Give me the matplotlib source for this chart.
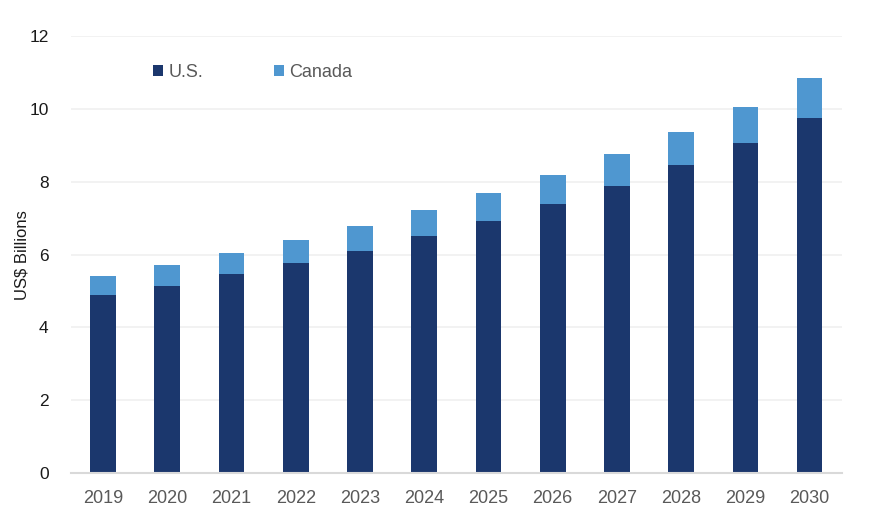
import matplotlib
matplotlib.use("Agg")
import matplotlib.pyplot as plt
import numpy as np

plt.rcParams['font.family'] = ['Liberation Sans', 'DejaVu Sans']

# data
years = ["2019", "2020", "2021", "2022", "2023", "2024",
         "2025", "2026", "2027", "2028", "2029", "2030"]
us = [4.90, 5.15, 5.47, 5.78, 6.11, 6.50, 6.93, 7.40, 7.89, 8.47, 9.08, 9.76]
total = [5.40, 5.71, 6.04, 6.40, 6.79, 7.23, 7.69, 8.20, 8.76, 9.38, 10.05, 10.84]
canada = [round(t - u, 2) for t, u in zip(total, us)]

fig = plt.figure(figsize=(8.75, 5.18), dpi=100)
ax = fig.add_axes([0.081, 0.087, 0.881, 0.843])

x = np.arange(len(years))
ax.bar(x, us, width=0.4, color="#1b376d", label="U.S.", zorder=3)
ax.bar(x, canada, width=0.4, bottom=us, color="#4f97d0", label="Canada", zorder=3)

ax.set_xlim(-0.5, len(years) - 0.5)
ax.set_ylim(0, 12)
ax.set_yticks(range(0, 13, 2))
ax.set_xticks(x)
ax.set_xticklabels(years)
ax.tick_params(axis='x', length=0, labelsize=13, colors="#595959", pad=12)
ax.tick_params(axis='y', length=0, labelsize=12.5, colors="#1a1a1a", pad=16)

ax.grid(axis='y', color="#f0f0f0", linewidth=1.2, zorder=0)
for s in ["top", "right", "left"]:
    ax.spines[s].set_visible(False)
ax.spines["bottom"].set_color("#d9d9d9")
ax.spines["bottom"].set_linewidth(1.5)
ax.spines["bottom"].set_zorder(4)

ax.set_ylabel("US$ Billions", fontsize=12, color="#1a1a1a", labelpad=0)

leg = ax.legend(loc="center left", bbox_to_anchor=(0.086, 0.918), ncol=2,
                frameon=False, handlelength=0.55, handleheight=0.55,
                handletextpad=0.3, columnspacing=3.9, fontsize=13)
for t in leg.get_texts():
    t.set_color("#595959")

fig.savefig("out.png", dpi=100)
